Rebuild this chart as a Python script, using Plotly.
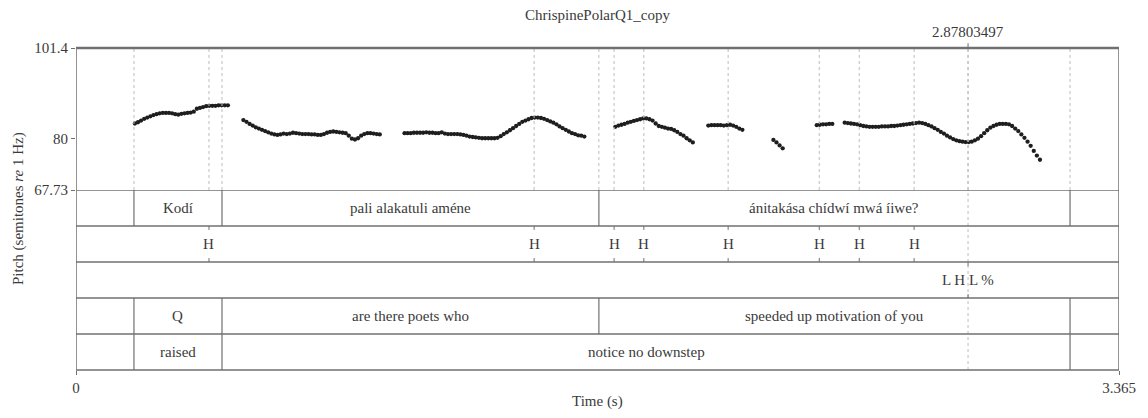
import plotly.graph_objects as go

# ---------------- data ----------------
title_text = "ChrispinePolarQ1_copy"
x_min, x_max = 0.0, 3.365
y_min, y_max = 67.73, 101.4
y_ticks = [67.73, 80, 101.4]
y_ticktext = ["67.73", "80", "101.4"]
cursor_time = 2.87803497
frame_step = 0.01

# pitch segments: start time (s) and values (semitones re 1 Hz) every 10 ms
seg_starts = [0.19, 0.54, 1.06, 1.74, 2.04, 2.25, 2.39, 2.48]
seg1 = [83.5, 83.8, 84.2, 84.6, 84.9, 85.2, 85.5, 85.7, 85.9, 86.0, 86.0, 86.0, 85.9, 85.7,
        85.6, 85.8, 85.9, 86.0, 86.1, 86.3, 87.0, 87.2, 87.4, 87.6, 87.7, 87.7, 87.7, 87.8,
        87.8, 87.8, 87.8]
seg2 = [84.3, 83.9, 83.4, 83.0, 82.6, 82.3, 82.0, 81.7, 81.4, 81.1, 80.9, 80.8, 80.9, 81.1,
        81.0, 81.1, 81.3, 81.2, 81.1, 81.0, 81.0, 81.0, 80.9, 80.9, 80.8, 80.8, 81.0, 81.3,
        81.5, 81.6, 81.5, 81.4, 81.3, 81.2, 80.6, 79.9, 79.7, 80.0, 80.6, 81.0, 81.2, 81.2,
        81.1, 81.0, 80.9]
seg3 = [81.2, 81.2, 81.2, 81.3, 81.3, 81.3, 81.3, 81.4, 81.3, 81.3, 81.2, 81.2, 81.4, 81.1,
        81.0, 81.0, 81.0, 81.0, 80.9, 80.8, 80.6, 80.4, 80.3, 80.2, 80.1, 80.0, 80.0, 80.0,
        80.0, 80.0, 80.1, 80.5, 81.0, 81.4, 81.9, 82.4, 82.9, 83.4, 83.9, 84.2, 84.5, 84.8,
        84.9, 84.9, 84.8, 84.6, 84.3, 84.0, 83.7, 83.3, 82.8, 82.4, 82.0, 81.6, 81.2, 81.0,
        80.7, 80.6, 80.4]
seg4 = [82.7, 83.0, 83.2, 83.4, 83.7, 83.9, 84.1, 84.3, 84.5, 84.7, 84.7, 84.5, 84.2, 83.5,
        82.9, 82.7, 82.5, 82.3, 82.2, 81.9, 81.5, 81.0, 80.6, 80.0, 79.5, 79.0]
seg5 = [83.0, 83.1, 83.1, 83.1, 83.1, 83.0, 83.1, 83.2, 83.0, 82.7, 82.3, 82.0]
seg6 = [79.6, 79.0, 78.3, 77.6]
seg7 = [83.1, 83.2, 83.3, 83.3, 83.4, 83.4]
seg8 = [83.7, 83.6, 83.5, 83.4, 83.3, 83.1, 82.9, 82.8, 82.7, 82.7, 82.7, 82.7, 82.8, 82.8,
        82.8, 82.9, 82.9, 83.0, 83.1, 83.2, 83.3, 83.4, 83.5, 83.6, 83.7, 83.6, 83.4, 83.1,
        82.8, 82.4, 82.0, 81.5, 81.1, 80.6, 80.2, 79.8, 79.5, 79.3, 79.2, 79.1, 79.1, 79.2,
        79.5, 79.9, 80.5, 81.2, 81.9, 82.5, 82.9, 83.2, 83.4, 83.4, 83.4, 83.3, 82.9, 82.3,
        81.7, 80.9, 80.1, 79.2, 78.2, 77.0, 75.9, 74.9]
segments = [seg1, seg2, seg3, seg4, seg5, seg6, seg7, seg8]

# TextGrid tiers (top to bottom)
tier1_bounds = [0.187, 0.471, 1.687, 3.207]
tier1_labels = ["Kodí", "pali alakatuli améne", "ánitakása chídwí mwá íiwe?"]
tier2_points = [0.429, 1.478, 1.736, 1.832, 2.104, 2.398, 2.527, 2.704]
tier2_labels = ["H", "H", "H", "H", "H", "H", "H", "H"]
tier3_points = [2.878]
tier3_labels = ["L H L %"]
tier4_bounds = [0.187, 0.471, 1.687, 3.207]
tier4_labels = ["Q", "are there poets who", "speeded up motivation of you"]
tier5_bounds = [0.187, 0.471, 3.207]
tier5_labels = ["raised", "notice no downstep"]

# ---------------- style ----------------
FONT = "Liberation Serif, Times New Roman, serif"
TXT = "#3a3a3a"
LINE = "#707070"
DOT = "#bdbdbd"
FS = 15
N_TIERS = 5

fig = go.Figure()

xs_all, ys_all = [], []
for start, vals in zip(seg_starts, segments):
    xs_all += [start + frame_step * i for i in range(len(vals))] + [None]
    ys_all += list(vals) + [None]
fig.add_trace(go.Scatter(x=xs_all, y=ys_all, mode="markers",
                         marker=dict(size=4.3, color="#1e1e1e"),
                         hoverinfo="skip", showlegend=False))

shapes = []
annotations = []

# dotted lines in the pitch area at every boundary / point
all_marks = sorted(set(tier1_bounds + tier2_points + tier3_points + tier4_bounds
                       + tier5_bounds + [cursor_time]))
for t in all_marks:
    shapes.append(dict(type="line", xref="x", yref="y", x0=t, x1=t, y0=y_min, y1=y_max,
                       line=dict(color=DOT, width=1, dash="dot")))
# cursor dotted line through tiers
shapes.append(dict(type="line", xref="x", yref="y2", x0=cursor_time, x1=cursor_time,
                   y0=0, y1=N_TIERS, line=dict(color=DOT, width=1, dash="dot")))

# tier horizontal separators
for k in range(1, N_TIERS + 1):
    shapes.append(dict(type="line", xref="x", yref="y2", x0=x_min, x1=x_max, y0=k, y1=k,
                       line=dict(color=LINE, width=1.3)))


def interval_tier(idx, bounds, labels):
    top = N_TIERS - idx
    bot = top - 1
    for b in bounds:
        shapes.append(dict(type="line", xref="x", yref="y2", x0=b, x1=b, y0=bot, y1=top,
                           line=dict(color=LINE, width=1.2)))
    for i, lab in enumerate(labels):
        annotations.append(dict(x=(bounds[i] + bounds[i + 1]) / 2, y=(top + bot) / 2,
                                xref="x", yref="y2", text=lab, showarrow=False,
                                font=dict(family=FONT, size=FS, color=TXT)))


def point_tier(idx, points, labels):
    top = N_TIERS - idx
    bot = top - 1
    for p, lab in zip(points, labels):
        shapes.append(dict(type="line", xref="x", yref="y2", x0=p, x1=p, y0=top - 0.11,
                           y1=top, line=dict(color=LINE, width=1)))
        shapes.append(dict(type="line", xref="x", yref="y2", x0=p, x1=p, y0=bot,
                           y1=bot + 0.11, line=dict(color=LINE, width=1)))
        annotations.append(dict(x=p, y=(top + bot) / 2, xref="x", yref="y2", text=lab,
                                showarrow=False, font=dict(family=FONT, size=FS, color=TXT)))


interval_tier(0, tier1_bounds, tier1_labels)
point_tier(1, tier2_points, tier2_labels)
point_tier(2, tier3_points, tier3_labels)
interval_tier(3, tier4_bounds, tier4_labels)
interval_tier(4, tier5_bounds, tier5_labels)

# outer frame
shapes.append(dict(type="rect", xref="x", yref="paper", x0=x_min, x1=x_max, y0=0, y1=1,
                   line=dict(color=LINE, width=1.5)))
shapes.append(dict(type="line", xref="x", yref="paper", x0=x_min, x1=x_max, y0=1, y1=1,
                   line=dict(color=LINE, width=2.5)))
# cursor tick on top
shapes.append(dict(type="line", xref="x", yref="paper", x0=cursor_time, x1=cursor_time,
                   y0=1, y1=1.015, line=dict(color=LINE, width=1)))

annotations += [
    dict(x=0.5, y=1.1025, xref="paper", yref="paper", text=title_text, showarrow=False,
         font=dict(family=FONT, size=FS, color=TXT), yanchor="middle"),
    dict(x=cursor_time, y=1.05, xref="x", yref="paper", text=f"{cursor_time:.8f}",
         showarrow=False, font=dict(family=FONT, size=FS, color=TXT), yanchor="middle"),
    dict(x=0.5, y=-0.099, xref="paper", yref="paper", text="Time (s)", showarrow=False,
         font=dict(family=FONT, size=FS, color=TXT), yanchor="middle"),
    dict(x=-0.0556, y=0.5, xref="paper", yref="paper",
         text="Pitch (semitones <i>re</i> 1 Hz)", textangle=-90, showarrow=False,
         font=dict(family=FONT, size=FS, color=TXT), xanchor="center", yanchor="middle"),
]

pitch_bottom = 180 / 322

# page body has an 8px default margin, so the figure is drawn 8px in from the corner
fig.update_layout(
    width=1140, height=410, autosize=False,
    margin=dict(l=68, r=29, t=40, b=48),
    paper_bgcolor="white", plot_bgcolor="white",
    shapes=shapes, annotations=annotations, showlegend=False,
    xaxis=dict(range=[x_min, x_max], anchor="free", position=0, showgrid=False,
               zeroline=False, showline=False, tickmode="array",
               tickvals=[x_min, x_max], ticktext=["0", "3.365"], ticks="outside",
               ticklen=4, tickcolor=LINE,
               tickfont=dict(family=FONT, size=FS, color=TXT)),
    yaxis=dict(domain=[pitch_bottom, 1], range=[y_min, y_max], showgrid=False,
               zeroline=False, showline=False, tickmode="array", tickvals=y_ticks,
               ticktext=y_ticktext, ticks="outside", ticklen=4, tickcolor=LINE,
               tickfont=dict(family=FONT, size=FS, color=TXT)),
    yaxis2=dict(domain=[0, pitch_bottom], range=[0, N_TIERS], showgrid=False,
                zeroline=False, showline=False, showticklabels=False, anchor="x"),
)

fig.write_html("out.html")
